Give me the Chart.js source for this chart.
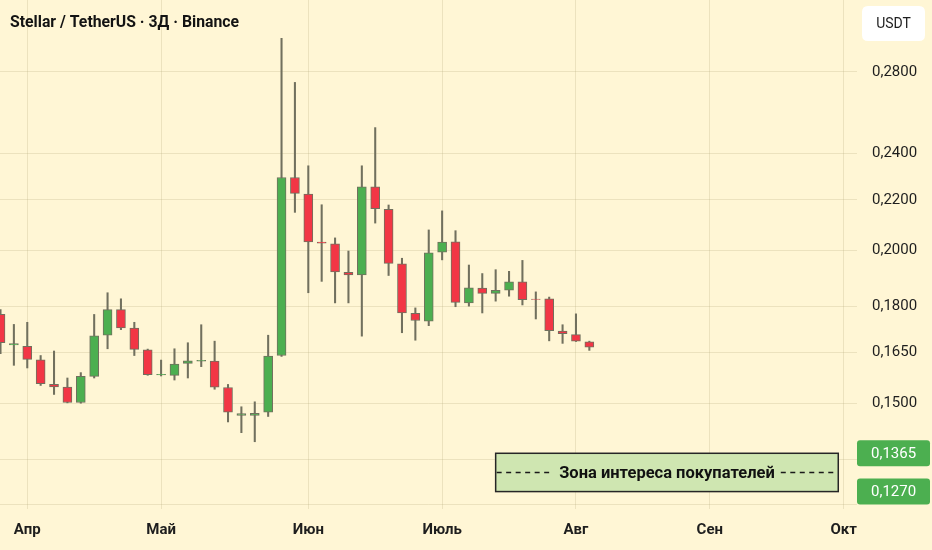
<!DOCTYPE html>
<html>
<head>
<meta charset="utf-8">
<script src="https://cdn.jsdelivr.net/npm/chart.js@4.4.0/dist/chart.umd.min.js"></script>
<style>
html,body{margin:0;padding:0;background:#fff6d5;}
#wrap{width:932px;height:550px;position:relative;}
</style>
</head>
<body>
<div id="wrap"><canvas id="c"></canvas></div>
<script>
// ---- DATA (3-day candles, XLM/USDT) ----
const opens  = [0.1773,0.1674,0.1670,0.1628,0.1554,0.1546,0.1502,0.1578,0.1705,0.1789,
                0.1728,0.1659,0.1582,0.1581,0.1617,0.1624,0.1624,0.1545,0.1466,0.1466,
                0.1475,0.1641,0.2295,0.2224,0.2032,0.2025,0.1919,0.1910,0.2255,0.2161,
                0.1950,0.1777,0.1751,0.1994,0.2033,0.1812,0.1863,0.1845,0.1856,0.1885,
                0.1825,0.1826,0.1718,0.1707,0.1684];
const highs  = [0.1789,0.1740,0.1747,0.1641,0.1655,0.1573,0.1589,0.1773,0.1847,0.1826,
                0.1747,0.1661,0.1627,0.1662,0.1681,0.1739,0.1686,0.1554,0.1490,0.1504,
                0.1705,0.2982,0.2745,0.2346,0.2180,0.2048,0.1998,0.2346,0.2521,0.2179,
                0.1971,0.1795,0.2079,0.2155,0.2076,0.1946,0.1915,0.1929,0.1923,0.1963,
                0.1850,0.1832,0.1739,0.1775,0.1686];
const lows   = [0.1647,0.1611,0.1603,0.1551,0.1525,0.1501,0.1500,0.1573,0.1662,0.1723,
                0.1641,0.1581,0.1579,0.1567,0.1573,0.1607,0.1540,0.1448,0.1419,0.1395,
                0.1463,0.1638,0.2149,0.1847,0.1887,0.1812,0.1812,0.1702,0.2106,0.1908,
                0.1713,0.1689,0.1736,0.1965,0.1799,0.1801,0.1778,0.1818,0.1835,0.1805,
                0.1758,0.1687,0.1679,0.1685,0.1657];
const closes = [0.1681,0.1678,0.1629,0.1556,0.1547,0.1502,0.1578,0.1703,0.1789,0.1729,
                0.1660,0.1583,0.1584,0.1615,0.1625,0.1626,0.1546,0.1475,0.1471,0.1472,
                0.1639,0.2295,0.2227,0.2033,0.2028,0.1921,0.1910,0.2255,0.2164,0.1952,
                0.1778,0.1753,0.1991,0.2032,0.1814,0.1864,0.1845,0.1855,0.1885,0.1823,
                0.1824,0.1720,0.1710,0.1686,0.1667];

const monthTickIndex = [2, 12, 23, 33, 43, 53, 63];
const monthLabels    = ['Апр', 'Май', 'Июн', 'Июль', 'Авг', 'Сен', 'Окт'];
const priceTicks     = [0.124, 0.135, 0.15, 0.165, 0.18, 0.20, 0.22, 0.24, 0.28];
const unlabeledTicks = [0.124, 0.135];

const zoneTop = 0.1365, zoneBottom = 0.127;
const zoneFromIndex = 37, zoneToIndex = 62.6;
const zoneLabel = 'Зона интереса покупателей';
const titleText = 'Stellar / TetherUS · 3Д · Binance';
const currencyLabel = 'USDT';

const X_MIN = -0.037, X_MAX = 64.0;
const Y_MIN = 0.1229, Y_MAX = 0.3206;

const UP = '#4caf50', DOWN = '#f23645', EDGE = '#71705e';
const fmt = v => v.toFixed(4).replace('.', ',');

const wickData = lows.map((l, i) => ({x: i, y: [l, highs[i]]}));
const bodyData = opens.map((o, i) => ({x: i, y: [o, closes[i]]}));
const bodyColors = opens.map((o, i) => closes[i] >= o ? UP : DOWN);

function rrect(ctx, x, y, w, h, r) {
  ctx.beginPath();
  ctx.moveTo(x + r, y);
  ctx.lineTo(x + w - r, y); ctx.quadraticCurveTo(x + w, y, x + w, y + r);
  ctx.lineTo(x + w, y + h - r); ctx.quadraticCurveTo(x + w, y + h, x + w - r, y + h);
  ctx.lineTo(x + r, y + h); ctx.quadraticCurveTo(x, y + h, x, y + h - r);
  ctx.lineTo(x, y + r); ctx.quadraticCurveTo(x, y, x + r, y);
  ctx.closePath();
}
// draws condensed text: given font size, squeeze horizontally to target width
function condensedText(ctx, text, x, y, size, weight, target, align) {
  ctx.save();
  ctx.font = `${weight} ${size}px Roboto`;
  const w = ctx.measureText(text).width;
  const sx = Math.min(1, target / w);
  ctx.translate(x, y);
  ctx.scale(sx, 1);
  ctx.textAlign = align; ctx.textBaseline = 'middle';
  ctx.fillText(text, 0, 0);
  ctx.restore();
  return w * sx;
}

const overlay = {
  id: 'overlay',
  afterDraw(chart) {
    const ctx = chart.ctx, xs = chart.scales.x, ys = chart.scales.y, ca = chart.chartArea;
    ctx.save();
    // buyer zone
    const x1 = xs.getPixelForValue(zoneFromIndex), x2 = xs.getPixelForValue(zoneToIndex);
    const y1 = ys.getPixelForValue(zoneTop), y2 = ys.getPixelForValue(zoneBottom);
    ctx.fillStyle = '#cfe6b1';
    ctx.fillRect(x1, y1, x2 - x1, y2 - y1);
    ctx.strokeStyle = '#262626'; ctx.lineWidth = 1.5;
    ctx.strokeRect(x1, y1, x2 - x1, y2 - y1);
    const ym = (y1 + y2) / 2, xm = (x1 + x2) / 2;
    ctx.fillStyle = '#111';
    const tw = condensedText(ctx, zoneLabel, xm, ym + 1, 16.5, 'bold', 218, 'center');
    ctx.setLineDash([5, 4.5]); ctx.lineWidth = 1.6; ctx.strokeStyle = '#1a1a1a';
    ctx.beginPath();
    ctx.moveTo(x1 + 1, ym); ctx.lineTo(xm - tw / 2 - 6, ym);
    ctx.moveTo(xm + tw / 2 + 6, ym); ctx.lineTo(x2 - 1, ym);
    ctx.stroke();
    ctx.setLineDash([]);
    // price badges
    [zoneTop, zoneBottom].forEach(v => {
      const y = ys.getPixelForValue(v);
      ctx.fillStyle = '#4caf50';
      rrect(ctx, ca.right, y - 13, chart.width - ca.right - 2, 26, 3);
      ctx.fill();
      ctx.fillStyle = '#ffffff'; ctx.font = '15px Roboto';
      ctx.textAlign = 'left'; ctx.textBaseline = 'middle';
      ctx.fillText(fmt(v), ca.right + 14, y + 1);
    });
    // currency box
    ctx.fillStyle = '#ffffff';
    rrect(ctx, 862, 6, 63, 35, 6); ctx.fill();
    ctx.fillStyle = '#1e1e1e'; ctx.font = '14px Roboto';
    ctx.textAlign = 'center'; ctx.textBaseline = 'middle';
    ctx.fillText(currencyLabel, 893.5, 24);
    // title
    ctx.fillStyle = '#131313';
    condensedText(ctx, titleText, 10, 23, 16, 'bold', 229, 'left');
    ctx.restore();
  }
};

const gridColor = 'rgba(160,150,100,0.2)';

new Chart(document.getElementById('c'), {
  type: 'bar',
  data: {
    datasets: [
      {label: 'wick', data: wickData, backgroundColor: EDGE, barThickness: 1.4,
       grouped: false, order: 2, borderWidth: 0},
      {label: 'body', data: bodyData, backgroundColor: bodyColors, borderColor: EDGE,
       borderWidth: 1, borderSkipped: false, barThickness: 9, grouped: false, order: 1}
    ]
  },
  options: {
    responsive: true, maintainAspectRatio: false, animation: false,
    layout: {padding: 0},
    plugins: {legend: {display: false}, tooltip: {enabled: false}, title: {display: false}},
    scales: {
      x: {
        type: 'linear', min: X_MIN, max: X_MAX, offset: false, bounds: 'data',
        grid: {color: gridColor, drawTicks: false, offset: false},
        border: {display: false},
        afterBuildTicks: s => { s.ticks = monthTickIndex.map(v => ({value: v})); },
        ticks: {
          autoSkip: false, maxRotation: 0, padding: 12, color: '#1e1e1e',
          font: {family: 'Roboto', weight: 'bold', size: 15},
          callback: v => { const k = monthTickIndex.indexOf(v); return k >= 0 ? monthLabels[k] : ''; }
        },
        afterFit: s => { s.height = 41; s.paddingLeft = 0; s.paddingRight = 0; }
      },
      y: {
        type: 'logarithmic', position: 'right', min: Y_MIN, max: Y_MAX, bounds: 'data',
        grid: {color: gridColor, drawTicks: false},
        border: {display: false},
        afterBuildTicks: s => { s.ticks = priceTicks.map(v => ({value: v})); },
        ticks: {
          padding: 15, color: '#1e1e1e', font: {family: 'Roboto', size: 15},
          callback: v => unlabeledTicks.includes(v) ? '' : fmt(v)
        },
        afterFit: s => { s.width = 75; s.paddingTop = 0; s.paddingBottom = 0; }
      }
    }
  },
  plugins: [overlay]
});
</script>
</body>
</html>
